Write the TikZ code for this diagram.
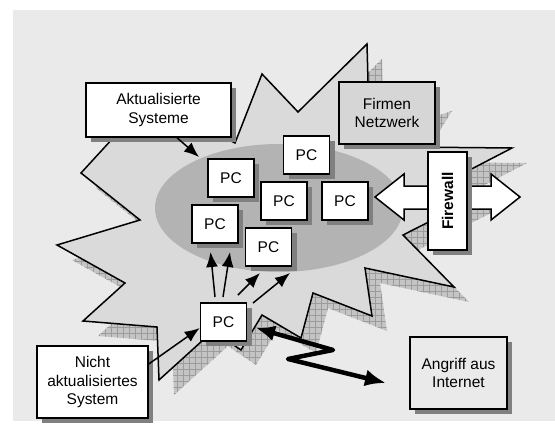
\documentclass[tikz,border=0pt]{standalone}
\usepackage{fontspec}
\setmainfont{Liberation Sans}
\usepackage{tikz}
\usetikzlibrary{arrows.meta, shapes.geometric, shadows, calc}

\definecolor{bggray}{HTML}{EAEAEA}
\definecolor{burstgray}{HTML}{DADADA}
\definecolor{netzgray}{HTML}{B3B3B3}
\definecolor{firmengray}{HTML}{D6D6D6}
\definecolor{shadegray}{HTML}{808080}
\definecolor{hatchgray}{HTML}{C4C4C4}
\definecolor{hatchline}{HTML}{9C9C9C}

%% outline of the burst
\def\burst{(81,173) -- (148,100) -- (235,143) -- (262,74) -- (298,112) -- (367,44) -- (369,118) -- (437,96) -- (405,147) -- (512,148) -- (458,176) -- (480,196) -- (403,235) -- (454,287) -- (365,268) -- (372,316) -- (313,293) -- (301,338) -- (262,315) -- (241,350) -- (213,331) -- (159,380) -- (157,327) -- (83,321) -- (125,283) -- (57,245) -- (140,220) -- cycle}

\begin{document}
\begin{tikzpicture}[x=1pt, y=-1pt,
    every node/.style={font=\fontsize{15.5}{18.5}\selectfont},
    box/.style={draw, line width=1.5pt, fill=white, align=center, inner sep=0pt,
        drop shadow={shadow xshift=5pt, shadow yshift=-5pt, fill=shadegray, opacity=1}},
    pcbox/.style={box, minimum width=46, minimum height=38},
    pfeil/.style={line width=1.5pt, -{Latex[length=15pt,width=12pt]}},
    blitz/.style={line width=4.5pt, line join=round, {Latex[length=19pt,width=16pt]}-{Latex[length=21pt,width=17pt]}}]

\useasboundingbox (0,0) rectangle (555,431);
\fill[white] (0,0) rectangle (555,431);
\fill[bggray] (13,10) rectangle (555,421);

%% hatched shadow of the burst
\begin{scope}[shift={(15,15)}]
    \clip \burst;
    \fill[hatchgray] (-20,-20) rectangle (560,440);
    \draw[hatchline, line width=0.6pt, step=6pt] (-20,-20) grid (560,440);
\end{scope}
\draw[fill=burstgray, line width=1.5pt, line join=miter] \burst;

\node[ellipse, fill=netzgray, minimum width=248, minimum height=128] at (279, 208) (netz) {};

%% PCs
\node[pcbox] at (306.5, 155) (pc1) {PC};
\node[pcbox] at (231, 178) (pc2) {PC};
\node[pcbox] at (284, 201) (pc3) {PC};
\node[pcbox] at (345, 201) (pc4) {PC};
\node[pcbox] at (215, 224) (pc5) {PC};
\node[pcbox] at (268.5, 247) (pc6) {PC};
\node[pcbox] at (223.5, 322) (pc7) {PC};

%% labels
\node[box, minimum width=145, minimum height=54] at (158.5, 110) (akt) {Aktualisierte\\Systeme};
\node[box, fill=firmengray, minimum width=96, minimum height=62] at (387, 113) (firmen) {Firmen\\Netzwerk};
\node[box, minimum width=111, minimum height=72] at (92.5, 382) (nicht) {Nicht\\aktualisiertes\\System};
\node[box, fill=bggray, minimum width=97, minimum height=72] at (458.5, 373) (angriff) {Angriff aus\\Internet};

%% firewall
\draw[fill=white, line width=1.5pt] (375,197) -- (404,174) -- (404,186) -- (491,186) -- (491,174) -- (520,197) -- (491,220) -- (491,209) -- (404,209) -- (404,220) -- cycle;
\node[box, minimum width=39, minimum height=98] at (447.5, 201) (fw) {\rotatebox{90}{\bfseries Firewall}};

%% arrows
\coordinate (t1) at (210.5, 252);
\coordinate (t2) at (230, 252);
\coordinate (t3) at (260, 273);
\coordinate (t4) at (290, 273);
\draw[pfeil] ($(pc7) + (-8.5, -25)$) -- (t1);
\draw[pfeil] ($(pc7) + (-0.5, -25)$) -- (t2);
\draw[pfeil] ($(pc7) + (14.5, -27)$) -- (t3);
\draw[pfeil] ($(pc7) + (29.5, -19)$) -- (t4);

\coordinate (tnetz) at (199, 157);
\draw[pfeil] ([xshift=18.5pt]akt.south) -- (tnetz);
\draw[pfeil] ([yshift=18pt]nicht.east) -- ([yshift=-6pt]pc7.west);

%% attack
\coordinate (hit) at (256, 328);
\coordinate (net) at (386, 383);
\draw[blitz] (hit) -- (333, 350) -- (288, 359) -- (net);

\end{tikzpicture}
\end{document}
